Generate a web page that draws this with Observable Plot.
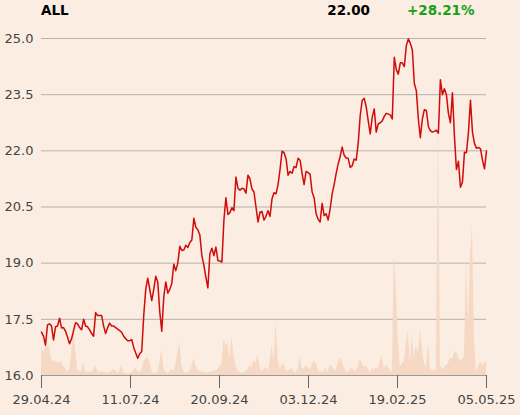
<!DOCTYPE html>
<html><head><meta charset="utf-8">
<script src="https://cdn.jsdelivr.net/npm/d3@7"></script>
<script src="https://cdn.jsdelivr.net/npm/@observablehq/plot@0.6"></script>
<style>
body{margin:0;background:#fbede1;font-family:"DejaVu Sans",sans-serif;}
#hdr{position:relative;height:22px;width:520px;font-weight:bold;font-size:13.5px;color:#000;}
#hdr span{position:absolute;top:2px;}
</style></head><body>
<div id="hdr"><span id="tk" style="left:41px"></span><span id="lp" style="right:150px"></span><span id="ch" style="left:407px;color:#18a018"></span></div>
<div id="chart"></div>
<script>
const ticker = "ALL";
const lastPrice = "22.00";
const change = "+28.21%";
const closes = [
17.16,17.05,16.81,17.35,17.38,17.32,16.95,17.30,17.32,17.53,
17.27,17.28,17.18,17.02,16.85,16.98,17.20,17.41,17.38,17.28,
17.22,17.50,17.32,17.30,17.22,17.12,17.05,17.68,17.60,17.60,
17.60,17.32,17.12,17.28,17.40,17.32,17.32,17.28,17.24,17.20,
17.15,17.05,16.98,16.93,16.93,16.96,16.75,16.60,16.46,16.58,
16.64,17.60,18.30,18.60,18.30,18.00,18.30,18.65,18.50,17.70,
17.18,18.10,18.50,18.20,18.30,18.46,18.97,18.80,19.00,19.45,
19.34,19.35,19.48,19.42,19.55,19.62,20.20,19.96,19.89,19.75,
19.20,18.95,18.63,18.34,19.25,19.40,19.20,19.43,19.07,19.06,
19.03,20.15,20.75,20.30,20.35,20.48,20.40,21.30,21.00,20.95,
21.00,20.98,20.87,21.35,21.25,20.98,20.90,20.50,20.10,20.36,
20.38,20.15,20.25,20.40,20.25,20.72,20.88,20.85,21.10,21.50,
21.99,21.95,21.79,21.35,21.45,21.40,21.58,21.55,21.80,21.75,
21.40,21.10,21.45,21.42,21.37,20.90,20.75,20.32,20.17,20.10,
20.60,20.27,20.32,20.15,20.45,20.85,21.10,21.40,21.65,21.85,
22.10,21.88,21.81,21.80,21.56,21.60,21.78,21.75,22.20,22.95,
23.35,23.40,23.17,22.80,22.45,22.90,23.12,22.50,22.72,22.75,
22.80,22.92,23.00,22.98,22.96,22.85,24.50,24.17,24.05,24.35,
24.35,24.25,24.81,24.99,24.87,24.70,23.80,23.60,22.85,22.35,
22.85,23.10,23.08,22.65,22.54,22.50,22.52,22.55,22.47,23.90,
23.50,23.66,23.50,23.00,22.75,23.55,22.40,21.50,21.72,21.03,
21.16,21.96,21.95,22.50,23.35,22.50,22.20,22.07,22.09,22.05,
21.75,21.52,22.00
];
const volumes = [
29,22,28,29,29,16,13,15,13,12,
14,9,7,4,5,20,52,26,6,4,
4,12,4,3,4,3,6,10,5,3,
4,3,3,2,3,4,6,5,2,4,
10,3,2,2,2,3,4,8,4,3,
5,14,16,18,14,5,2,2,3,12,
26,8,3,2,3,6,4,10,22,34,
10,4,2,3,4,8,17,10,5,4,
3,4,2,3,3,4,4,5,6,8,
12,36,30,32,18,38,20,10,5,3,
2,3,4,6,10,8,15,12,20,8,
4,6,8,4,12,30,14,55,18,5,
10,12,5,4,6,7,4,2,6,20,
8,6,10,8,5,10,15,12,6,3,
4,4,8,3,10,10,5,6,12,18,
14,8,4,3,6,8,4,5,8,16,
12,8,10,6,3,7,5,8,6,14,
20,6,10,8,4,3,120,87,35,8,
12,14,30,46,12,42,16,30,22,46,
28,12,8,32,8,4,6,5,255,10,
6,8,10,12,18,16,22,24,18,14,
16,18,116,54,120,150,35,4,8,14,
10,12,14
];
const tickLabels = ["29.04.24","11.07.24","20.09.24","03.12.24","19.02.25","05.05.25"];
const yTicks = [16, 17.5, 19, 20.5, 22, 23.5, 25];

document.getElementById("tk").textContent = ticker;
document.getElementById("lp").textContent = lastPrice;
document.getElementById("ch").textContent = change;

const n = closes.length;
const data = closes.map((c, i) => ({i, close: c, vol: volumes[i]}));
const volFactor = 9 / 337; // volume units -> price-axis units
const xTickPos = tickLabels.map((_, k) => (n - 1) * k / (tickLabels.length - 1));
const labelMap = new Map(xTickPos.map((p, k) => [p, tickLabels[k]]));

const chart = Plot.plot({
  width: 520, height: 393,
  marginTop: 16, marginBottom: 40, marginLeft: 41, marginRight: 34,
  style: {background: "transparent", fontFamily: "DejaVu Sans", fontSize: "13px", color: "#444", overflow: "visible"},
  x: {domain: [0, n - 1]},
  y: {domain: [16, 25]},
  marks: [
    Plot.gridY(yTicks, {stroke: "#b3b3b3", strokeOpacity: 1}),
    Plot.areaY(data, {x: "i", y1: 16, y2: d => 16 + d.vol * volFactor, fill: "#f6d9c4"}),
    Plot.ruleY([16], {stroke: "#999"}),
    Plot.lineY(data, {x: "i", y: "close", stroke: "#d10a0a", strokeWidth: 1.5}),
    Plot.axisY(yTicks, {tickSize: 0, tickPadding: 8, tickFormat: d => d.toFixed(1), label: null, fontSize: 13}),
    Plot.axisX(xTickPos, {tickSize: 13, tickPadding: 6, tickFormat: d => labelMap.get(d), label: null, stroke: "#666", fontSize: 13})
  ]
});
document.getElementById("chart").appendChild(chart);
</script></body></html>
